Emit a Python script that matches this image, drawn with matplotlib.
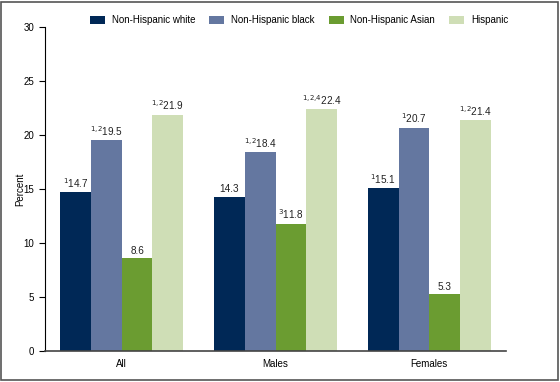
import numpy as np
import matplotlib.pyplot as plt
from matplotlib.patches import Rectangle

plt.rcParams['font.family'] = ['Liberation Sans', 'DejaVu Sans']
plt.rcParams['mathtext.default'] = 'regular'

# data
groups = ["All", "Males", "Females"]
series = ["Non-Hispanic white", "Non-Hispanic black", "Non-Hispanic Asian", "Hispanic"]
white = [14.7, 14.3, 15.1]
black = [19.5, 18.4, 20.7]
asian = [8.6, 11.8, 5.3]
hispanic = [21.9, 22.4, 21.4]
white_notes = ["1", "", "1"]
black_notes = ["1,2", "1,2", "1"]
asian_notes = ["", "3", ""]
hispanic_notes = ["1,2", "1,2,4", "1,2"]
colors = ["#002856", "#6477A0", "#6B9C31", "#CFDEB6"]

values = [white, black, asian, hispanic]
notes = [white_notes, black_notes, asian_notes, hispanic_notes]

fig = plt.figure(figsize=(5.6, 3.82), dpi=100)
ax = fig.add_axes([0.080, 0.081, 0.824, 0.848])

x = np.arange(len(groups))
w = 0.2
for i, (vals, nts) in enumerate(zip(values, notes)):
    pos = x + (i - 1.5) * w
    ax.bar(pos, vals, width=w, color=colors[i], label=series[i], edgecolor="none")
    for p, v, n in zip(pos, vals, nts):
        lab = (r"$^{\mathsf{%s}}$" % n.replace(",", ",\!") if n else "") + "%.1f" % v
        ax.text(p, v + 0.2, lab, ha="center", va="bottom", fontsize=7.2, color="#222222")

ax.set_xlim(-0.5, 2.5)
ax.set_ylim(0, 30)
ax.set_yticks(range(0, 31, 5))
ax.set_xticks(x)
ax.set_xticklabels(groups)
ax.tick_params(axis="x", length=0, labelsize=7, pad=6)
ax.tick_params(axis="y", length=4, labelsize=7, direction="out")
for s in ["top", "right"]:
    ax.spines[s].set_visible(False)
ax.spines["left"].set_color("black")
ax.spines["bottom"].set_color("#444444")
ax.spines["bottom"].set_linewidth(1.2)
ax.set_ylabel("Percent", fontsize=7, labelpad=-1)

ax.legend(loc="center", bbox_to_anchor=(0.551, 1.0 + 7 / 324), ncol=4, frameon=False,
          fontsize=7, handlelength=1.55, handleheight=0.95, columnspacing=1.45,
          handletextpad=0.7, borderaxespad=0, borderpad=0)

fig.patches.append(Rectangle((0.002, 0.005), 0.994, 0.99, transform=fig.transFigure,
                             fill=False, edgecolor="#555555", linewidth=1.2))

fig.savefig("out.png", dpi=100)
